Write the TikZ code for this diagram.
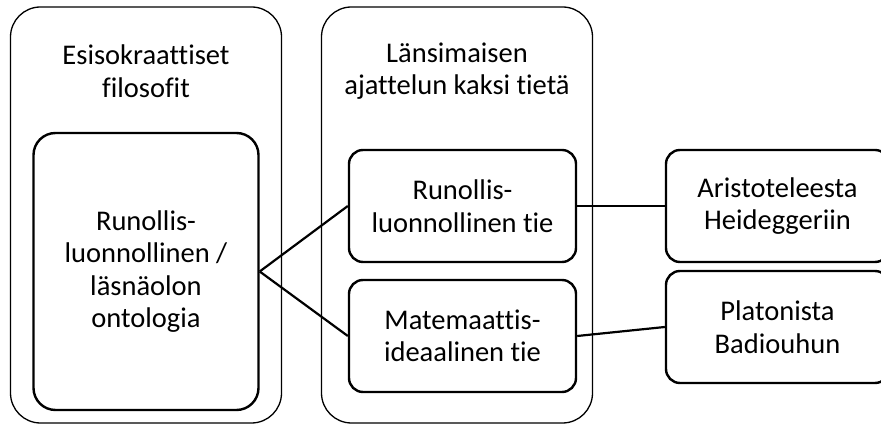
\documentclass[tikz,border=0pt]{standalone}
\usepackage{fontspec}
\setmainfont[Ligatures=NoCommon]{Carlito}
\usepackage{tikz}

\begin{document}
\begin{tikzpicture}[x=1pt, y=1pt, node distance={311pt},
    outer/.style={draw, line width=1.3pt, rounded corners=30pt, minimum width=271pt, minimum height=416pt},
    inner/.style={draw, fill=white, line width=2.4pt, rounded corners=14pt, minimum width=227pt, minimum height=112pt, align=center},
    title/.style={align=center},
    link/.style={line width=2.2pt}]
    \clip (0,0) rectangle (881,425);
    \fontsize{28.5}{32.5}\selectfont

    \node[outer] (esi) at (146,210) {};
    \node[outer] (lan) [right of=esi] {};
    \node[title] (esit) [above of=esi, yshift=-167pt] {Esisokraattiset\\filosofit};
    \node[title] (lant) [above of=lan, yshift=-167pt] {Länsimaisen\\ajattelun kaksi tietä};

    \node[inner, minimum width=225pt, minimum height=277pt, rounded corners=22pt] (ont) [below of=esi, yshift=254.5pt] {Runollis-\\luonnollinen /\\läsnäolon\\ontologia};

    \node[inner] (run) [right of=ont, xshift=5.5pt, yshift=65.5pt] {Runollis-\\luonnollinen tie};
    \node[inner] (mat) [below of=run, yshift=181pt] {Matemaattis-\\ideaalinen tie};

    \node[inner, minimum width=223pt] (ari) [right of=run, xshift=4pt] {Aristoteleesta\\Heideggeriin};
    \node[inner, minimum width=223pt] (pla) [right of=mat, xshift=4pt, yshift=9pt] {Platonista\\Badiouhun};

    \draw[link] (ont.east) -- (run.west);
    \draw[link] (ont.east) -- (mat.west);
    \draw[link] (run.east) -- (ari.west);
    \draw[link] (mat.east) -- (pla.west);
\end{tikzpicture}
\end{document}
